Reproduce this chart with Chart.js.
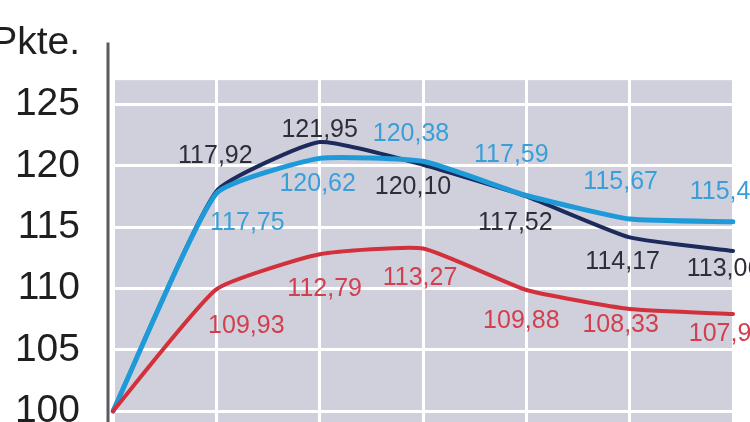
<!DOCTYPE html>
<html>
<head>
<meta charset="utf-8">
<script src="https://cdn.jsdelivr.net/npm/chart.js@4/dist/chart.umd.min.js"></script>
<style>
  html, body { margin: 0; padding: 0; background: #fff; overflow: hidden; }
  #wrap { position: relative; width: 750px; height: 505px; margin-top: -13px; }
</style>
</head>
<body>
<div id="wrap"><canvas id="c"></canvas></div>
<script>
// ---- data ----
const categories = ['1', '2', '3', '4', '5', '6', '7'];
const seriesDark  = [100, 117.92, 121.95, 120.10, 117.52, 114.17, 113.06];
const seriesBlue  = [100, 117.75, 120.62, 120.38, 117.59, 115.67, 115.45];
const seriesRed   = [100, 109.93, 112.79, 113.27, 109.88, 108.33, 107.92];
const yTicks = [100, 105, 110, 115, 120, 125, 130];
const yUnitLabel = 'Pkte.';

// ---- label offsets (style only) ----
const offDark = [null, [-1,-35], [0,-12], [-10,22], [-11,27], [-7,25], [-9,18]];
const offBlue = [null, [31,30], [-2,26], [-12,-27], [-15,-40], [-9,-37], [-6,-30]];
const offRed  = [null, [30,37], [5,35], [-3,30], [-5,31], [-9,16], [-6,20]];

const labelPlugin = {
  id: 'valueLabels',
  afterDatasetsDraw(chart) {
    const ctx = chart.ctx;
    ctx.save();
    ctx.font = '25px "Liberation Sans", Arial, sans-serif';
    ctx.textAlign = 'center';
    ctx.textBaseline = 'middle';
    chart.data.datasets.forEach((ds, di) => {
      const meta = chart.getDatasetMeta(di);
      meta.data.forEach((pt, i) => {
        const off = ds.labelOffsets[i];
        if (!off) return;
        ctx.fillStyle = ds.labelColor;
        ctx.fillText(ds.data[i].toFixed(2).replace('.', ','), pt.x + off[0], pt.y + off[1]);
      });
    });
    ctx.restore();
  }
};

const bgPlugin = {
  id: 'bgPanel',
  beforeDraw(chart) {
    const ctx = chart.ctx;
    const a = chart.chartArea;
    const y = chart.scales.y;
    const top = y.getPixelForValue(127);
    ctx.save();
    ctx.fillStyle = '#cfd0dc';
    ctx.fillRect(a.left, top, a.right - a.left, a.bottom - top);
    ctx.restore();
  },
  afterDraw(chart) {
    const ctx = chart.ctx;
    const a = chart.chartArea;
    ctx.save();
    ctx.strokeStyle = '#5a5a60';
    ctx.lineWidth = 3;
    ctx.beginPath();
    ctx.moveTo(a.left - 5, a.top - 1);
    ctx.lineTo(a.left - 5, chart.height);
    ctx.stroke();
    ctx.restore();
  }
};

new Chart(document.getElementById('c'), {
  type: 'line',
  data: {
    labels: categories,
    datasets: [
      { label: 'Rot', data: seriesRed, borderColor: '#d2313c', borderWidth: 4,
        labelColor: '#d2404e', labelOffsets: offRed },
      { label: 'Hellblau', data: seriesBlue, borderColor: '#1e9ad8', borderWidth: 5,
        labelColor: '#3a9fd8', labelOffsets: offBlue },
      { label: 'Dunkel', data: seriesDark, borderColor: '#1c2a5c', borderWidth: 4,
        labelColor: '#2e2e3a', labelOffsets: offDark }
    ]
  },
  options: {
    responsive: true,
    maintainAspectRatio: false,
    animation: false,
    devicePixelRatio: 1,
    layout: { padding: { top: 10, right: 17, bottom: 10, left: 0 } },
    elements: {
      point: { radius: 0 },
      line: { tension: 0.15, fill: false, borderCapStyle: 'round', borderJoinStyle: 'round' }
    },
    plugins: { legend: { display: false }, tooltip: { enabled: false } },
    scales: {
      x: {
        offset: false,
        border: { display: false },
        grid: { color: '#ffffff', lineWidth: 3, drawTicks: false },
        ticks: { display: false }
      },
      y: {
        min: 98,
        max: 130,
        afterBuildTicks(scale) { scale.ticks = yTicks.map(v => ({ value: v })); },
        afterFit(scale) { scale.width = 113; },
        border: { display: false },
        grid: { color: '#ffffff', lineWidth: 3, drawTicks: false },
        ticks: {
          padding: 33,
          color: '#1f1f1f',
          font: { family: '"Liberation Sans", Arial, sans-serif', size: 39 },
          callback: v => (v === 130 ? yUnitLabel : String(v))
        }
      }
    }
  },
  plugins: [bgPlugin, labelPlugin]
});
</script>
</body>
</html>
